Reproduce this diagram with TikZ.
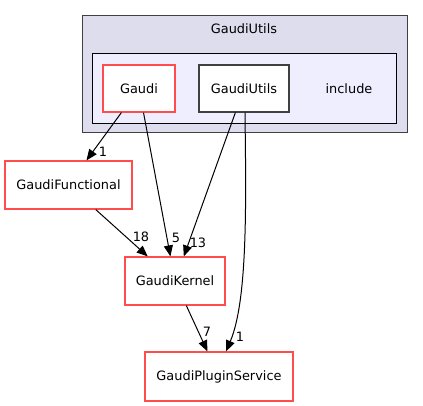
\documentclass[tikz,border=0pt]{standalone}
\usepackage{fontspec}
\setmainfont{DejaVu Sans}
\usetikzlibrary{arrows.meta,calc}
\definecolor{redb}{HTML}{FF4D4D}
\definecolor{outerfill}{HTML}{DDDDEE}
\definecolor{innerfill}{HTML}{EEEEFF}
\definecolor{darkb}{HTML}{404040}
\begin{document}
\begin{tikzpicture}[x=1pt,y=-1pt,
  txt/.style={font=\fontsize{12.9}{15}\selectfont},
  dirbox/.style={draw=redb,fill=white,line width=1.2pt,minimum height=47pt,inner sep=0pt,txt},
  plainbox/.style={draw=darkb,fill=white,line width=1.2pt,minimum height=47pt,inner sep=0pt,txt},
  edge/.style={draw=black,line width=1pt,-{Triangle[length=11pt,width=9pt]}},
  lbl/.style={txt,inner sep=0pt}]
\useasboundingbox (0,0) rectangle (423,406);
% clusters
\draw[draw=darkb,fill=outerfill,line width=1pt] (82,16) rectangle (407,133);
\node[txt] (outertitle) at (244,29) {GaudiUtils};
\draw[draw=black,fill=innerfill,line width=1pt] (92,54) rectangle (396,124);
\node[txt] (inctitle) at (349,88.5) {include};
% nodes
\node[dirbox,minimum width=72pt] (Gaudi) at (139,88.5) {Gaudi};
\node[plainbox,minimum width=90pt] (GU) at (244,88.5) {GaudiUtils};
\node[dirbox,minimum width=127pt,minimum height=48pt] (GF) at (68.5,185) {GaudiFunctional};
\node[dirbox,minimum width=100pt,minimum height=48pt] (GK) at (175,281) {GaudiKernel};
\node[dirbox,minimum width=148pt,minimum height=49pt] (GPS) at (219,376.5) {GaudiPluginService};
% edges
\draw[edge] (Gaudi) -- (GF);
\draw[edge] (Gaudi) -- (GK);
\draw[edge] (GU) -- (GK);
\draw[edge] (GF) -- (GK);
\draw[edge] (GK) -- (GPS);
\draw[edge] ($(GU.south)+(1,0)$) .. controls (246,200) and (248,300) .. ($(GPS.north)+(7,0)$);
% labels
\node[lbl] (l1) at (103,152) {1};
\node[lbl] (l5) at (176,238) {5};
\node[lbl] (l13) at (198,243) {13};
\node[lbl] (l18) at (141,237) {18};
\node[lbl] (l7) at (207,332) {7};
\node[lbl] (l1b) at (240,337) {1};
\end{tikzpicture}
\end{document}
